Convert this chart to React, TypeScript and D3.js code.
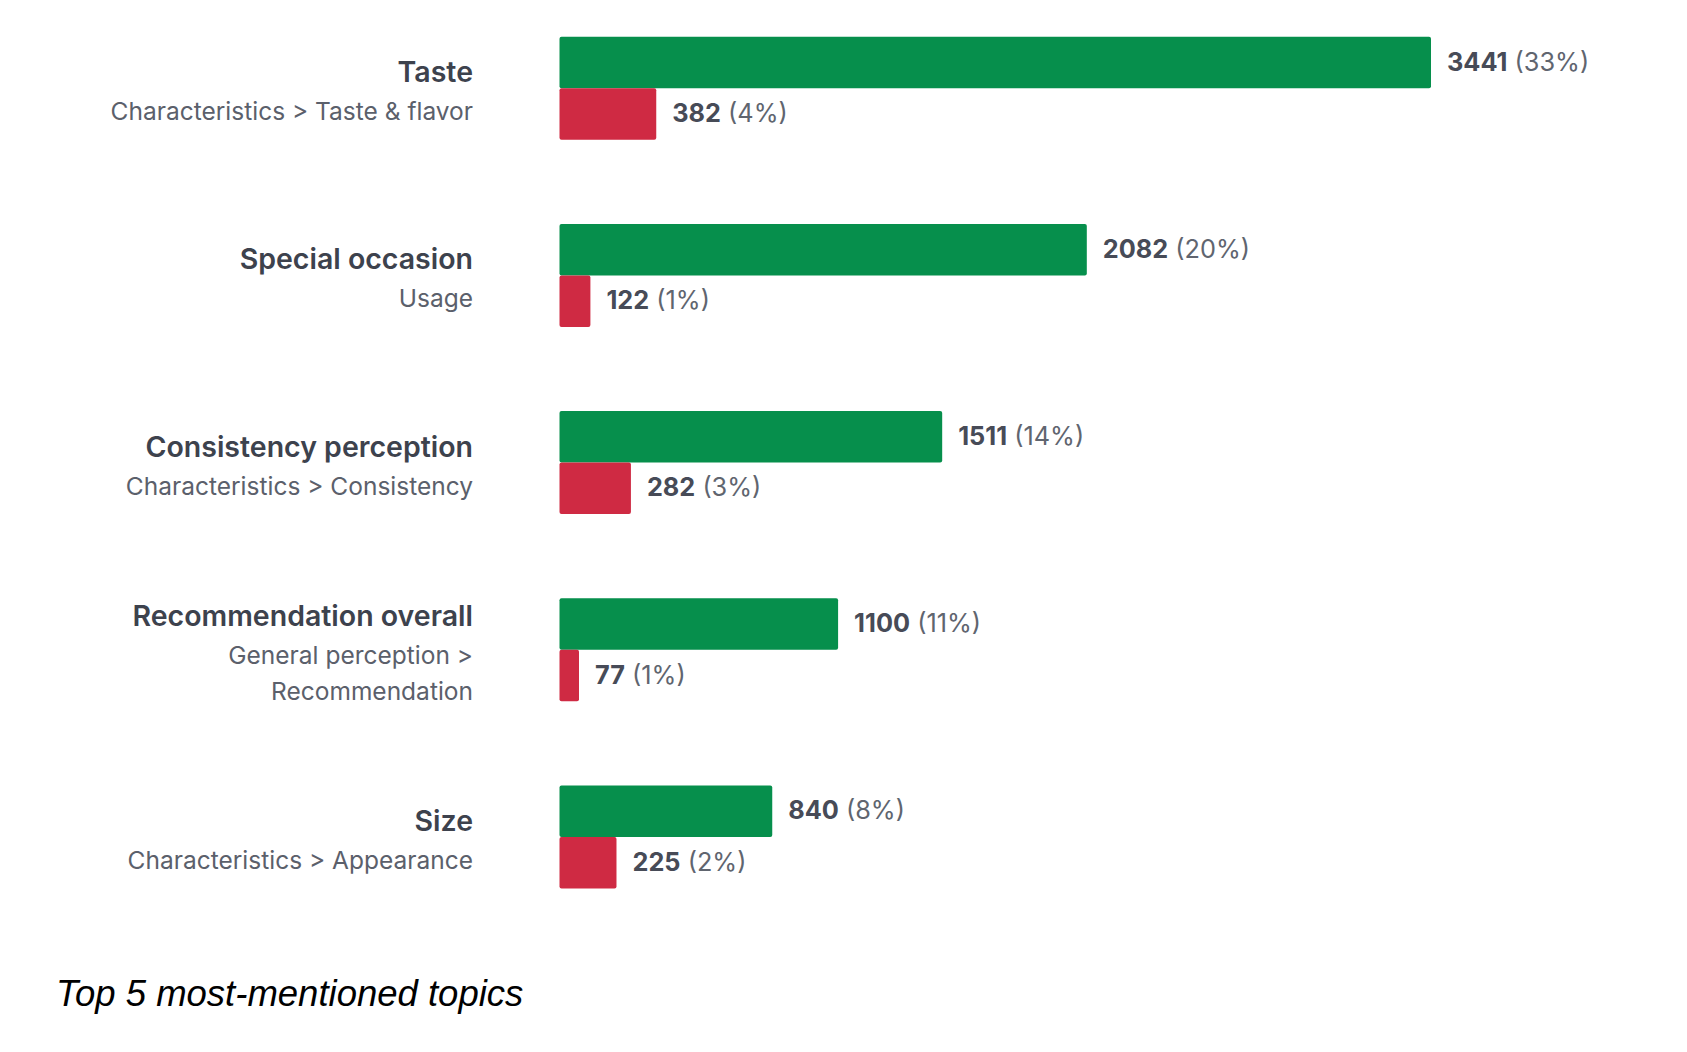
import * as d3 from "d3";
import { useEffect } from "react";

const WIDTH = 1687;
const HEIGHT = 1052;

const topics = ["Taste", "Special occasion", "Consistency perception", "Recommendation overall", "Size"];
const subtitles = [
    ["Characteristics > Taste & flavor"],
    ["Usage"],
    ["Characteristics > Consistency"],
    ["General perception >", "Recommendation"],
    ["Characteristics > Appearance"],
];
const positiveCounts = [3441, 2082, 1511, 1100, 840];
const positiveShares = ["33%", "20%", "14%", "11%", "8%"];
const negativeCounts = [382, 122, 282, 77, 225];
const negativeShares = ["4%", "1%", "3%", "1%", "2%"];

const GREEN = "#068f4c";
const RED = "#cf2a43";
const FONT = "Inter, 'Noto Sans', sans-serif";

export default function App() {
    useEffect(() => {
        document.body.style.margin = "0";
    }, []);

    const x = d3.scaleLinear().domain([0, d3.max(positiveCounts) ?? 1]).range([559.5, 1431]);
    const y = d3.scaleBand<string>().domain(topics).range([0, 936]).paddingInner(0).paddingOuter(0);
    const barH = 51.5;
    const lineH = 36;
    // group centre = top of band + offset
    const groupCenter = (t: string) => (y(t) ?? 0) + 88.2;

    return (
        <svg width={WIDTH} height={HEIGHT} style={{ display: "block", background: "#fff" }}>
            {topics.map((t, i) => {
                const c = groupCenter(t);
                const subs = subtitles[i];
                const first = c - 6 - ((subs.length - 1) * lineH) / 2;
                return (
                    <g key={t}>
                        <text x={473} y={first} textAnchor="end" fontFamily={FONT} fontWeight={600} fontSize={28.5} fill="#3d424d">
                            {t}
                        </text>
                        {subs.map((s, j) => (
                            <text key={s} x={473} y={first + 38 + j * lineH} textAnchor="end" fontFamily={FONT} fontSize={24.5} fill="#5b606b">
                                {s}
                            </text>
                        ))}
                        <rect x={x(0)} y={c - barH} width={x(positiveCounts[i]) - x(0)} height={barH} rx={2} fill={GREEN} />
                        <rect x={x(0)} y={c} width={x(negativeCounts[i]) - x(0)} height={barH} rx={2} fill={RED} />
                        <text x={x(positiveCounts[i]) + 16} y={c - barH / 2 - 1} dy="0.36em" fontFamily={FONT} fontSize={25.3} fill="#474b57">
                            <tspan fontWeight={700}>{positiveCounts[i]}</tspan>
                            <tspan fill="#60656f"> ({positiveShares[i]})</tspan>
                        </text>
                        <text x={x(negativeCounts[i]) + 16} y={c + barH / 2 - 1} dy="0.36em" fontFamily={FONT} fontSize={25.3} fill="#474b57">
                            <tspan fontWeight={700}>{negativeCounts[i]}</tspan>
                            <tspan fill="#60656f"> ({negativeShares[i]})</tspan>
                        </text>
                    </g>
                );
            })}
            <text x={56} y={1006} fontFamily="'Liberation Sans', Arial, sans-serif" fontStyle="italic" fontSize={36.5} fill="#000">
                Top 5 most-mentioned topics
            </text>
        </svg>
    );
}
